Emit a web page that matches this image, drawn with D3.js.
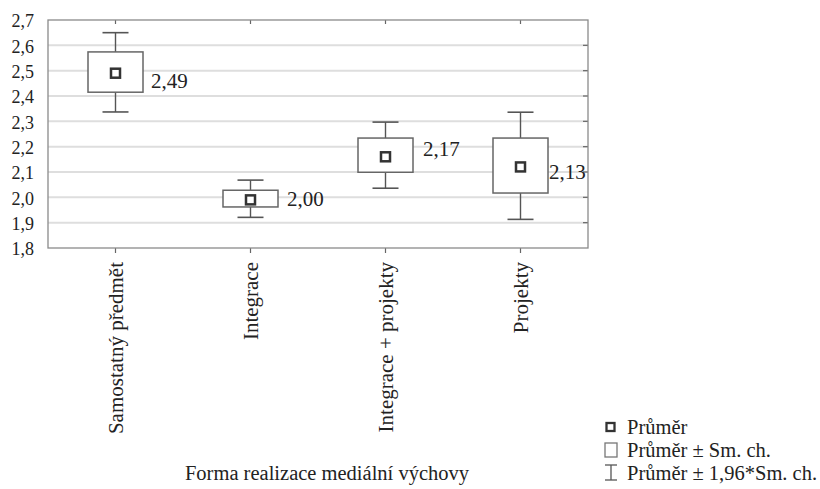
<!DOCTYPE html>
<html><head><meta charset="utf-8">
<script src="https://cdn.jsdelivr.net/npm/d3@7"></script>
<style>body{margin:0;background:#fff}svg{display:block}text{font-family:"Liberation Serif",serif;fill:#222}</style>
</head><body>
<script>
const categories = ["Samostatný předmět","Integrace","Integrace + projekty","Projekty"];
const means = [2.49, 1.99, 2.16, 2.12];
const meanLabels = ["2,49","2,00","2,17","2,13"];
const boxLow = [2.415, 1.962, 2.099, 2.017];
const boxHigh = [2.574, 2.028, 2.234, 2.234];
const whiskLow = [2.337, 1.921, 2.036, 1.913];
const whiskHigh = [2.650, 2.068, 2.297, 2.336];
const yTicks = [1.8,1.9,2.0,2.1,2.2,2.3,2.4,2.5,2.6,2.7];
const xTitle = "Forma realizace mediální výchovy";
const legendItems = ["Průměr","Průměr ± Sm. ch.","Průměr ± 1,96*Sm. ch."];
// label placement (style)
const labelDx = [8, 9, 10, 1];
const labelDy = [15, 6, -1, 12];

const W=820,H=489;
const L=48,R=588,T=20,B=248;
const svg=d3.select("body").append("svg").attr("width",W).attr("height",H);
const y=d3.scaleLinear().domain([1.8,2.7]).range([B,T]);
const x=d3.scalePoint().domain(categories).range([L,R]).padding(0.5);
const fmt=v=>d3.format(".1f")(v).replace(".",",");

// grid
svg.append("g").selectAll("line").data(yTicks.slice(1,-1)).join("line")
 .attr("x1",L).attr("x2",R).attr("y1",d=>y(d)).attr("y2",d=>y(d))
 .attr("stroke","#dedede").attr("stroke-width",2);

// right ticks
svg.append("g").selectAll("line").data(yTicks.slice(1,-1)).join("line")
 .attr("x1",R-5).attr("x2",R).attr("y1",d=>y(d)).attr("y2",d=>y(d))
 .attr("stroke","#666").attr("stroke-width",1.2);
// top / bottom ticks
svg.append("g").selectAll("line").data(categories).join("line")
 .attr("x1",d=>x(d)).attr("x2",d=>x(d)).attr("y1",T).attr("y2",T+4)
 .attr("stroke","#666").attr("stroke-width",1.2);
svg.append("g").selectAll("line").data(categories).join("line")
 .attr("x1",d=>x(d)).attr("x2",d=>x(d)).attr("y1",B).attr("y2",B+5)
 .attr("stroke","#666").attr("stroke-width",1.2);

// frame
svg.append("rect").attr("x",L).attr("y",T).attr("width",R-L).attr("height",B-T)
 .attr("fill","none").attr("stroke","#8a8a8a").attr("stroke-width",1.3);

// y tick labels
svg.append("g").selectAll("text").data(yTicks).join("text")
 .attr("x",34).attr("y",d=>y(d)+1).attr("dy","0.35em").attr("text-anchor","end")
 .attr("font-size",18).text(fmt);

// category labels
svg.append("g").selectAll("text").data(categories).join("text")
 .attr("transform",d=>`translate(${x(d)+7},262) rotate(-90)`)
 .attr("text-anchor","end").attr("font-size",21).text(d=>d);

const bw=55, cw=26;
const g=svg.append("g").selectAll("g").data(categories).join("g");
// whiskers
g.append("line").attr("x1",d=>x(d)).attr("x2",d=>x(d))
 .attr("y1",(d,i)=>y(whiskHigh[i])).attr("y2",(d,i)=>y(boxHigh[i])).attr("stroke","#555").attr("stroke-width",1.4);
g.append("line").attr("x1",d=>x(d)).attr("x2",d=>x(d))
 .attr("y1",(d,i)=>y(boxLow[i])).attr("y2",(d,i)=>y(whiskLow[i])).attr("stroke","#555").attr("stroke-width",1.4);
g.append("line").attr("x1",d=>x(d)-cw/2).attr("x2",d=>x(d)+cw/2)
 .attr("y1",(d,i)=>y(whiskHigh[i])).attr("y2",(d,i)=>y(whiskHigh[i])).attr("stroke","#555").attr("stroke-width",1.6);
g.append("line").attr("x1",d=>x(d)-cw/2).attr("x2",d=>x(d)+cw/2)
 .attr("y1",(d,i)=>y(whiskLow[i])).attr("y2",(d,i)=>y(whiskLow[i])).attr("stroke","#555").attr("stroke-width",1.6);
// boxes
g.append("rect").attr("x",d=>x(d)-bw/2).attr("width",bw)
 .attr("y",(d,i)=>y(boxHigh[i])).attr("height",(d,i)=>y(boxLow[i])-y(boxHigh[i]))
 .attr("fill","#fff").attr("stroke","#666").attr("stroke-width",1.5);
// mean markers
g.append("rect").attr("x",d=>x(d)-4.5).attr("y",(d,i)=>y(means[i])-4.5)
 .attr("width",9).attr("height",9).attr("fill","#fff").attr("stroke","#333").attr("stroke-width",2.5);
// labels
g.append("text").attr("x",(d,i)=>x(d)+bw/2+labelDx[i]).attr("y",(d,i)=>y(means[i])+labelDy[i])
 .attr("font-size",21).text((d,i)=>meanLabels[i]);

// axis title
svg.append("text").attr("x",327).attr("y",480).attr("text-anchor","middle")
 .attr("font-size",20.5).text(xTitle);

// legend
const lx=605, ly=[427,450,473];
svg.append("rect").attr("x",lx+1.5).attr("y",ly[0]-4).attr("width",8).attr("height",8)
 .attr("fill","#fff").attr("stroke","#333").attr("stroke-width",2.3);
svg.append("rect").attr("x",lx).attr("y",ly[1]-7).attr("width",12).attr("height",14)
 .attr("fill","#fff").attr("stroke","#777").attr("stroke-width",1.3);
svg.append("line").attr("x1",lx+6).attr("x2",lx+6).attr("y1",ly[2]-8).attr("y2",ly[2]+7).attr("stroke","#555").attr("stroke-width",1.3);
svg.append("line").attr("x1",lx).attr("x2",lx+12).attr("y1",ly[2]-8).attr("y2",ly[2]-8).attr("stroke","#555").attr("stroke-width",1.3);
svg.append("line").attr("x1",lx).attr("x2",lx+12).attr("y1",ly[2]+7).attr("y2",ly[2]+7).attr("stroke","#555").attr("stroke-width",1.3);
svg.append("g").selectAll("text").data(legendItems).join("text")
 .attr("x",lx+22).attr("y",(d,i)=>ly[i]).attr("dy","0.35em").attr("font-size",20.5).text(d=>d);
</script>
</body></html>
